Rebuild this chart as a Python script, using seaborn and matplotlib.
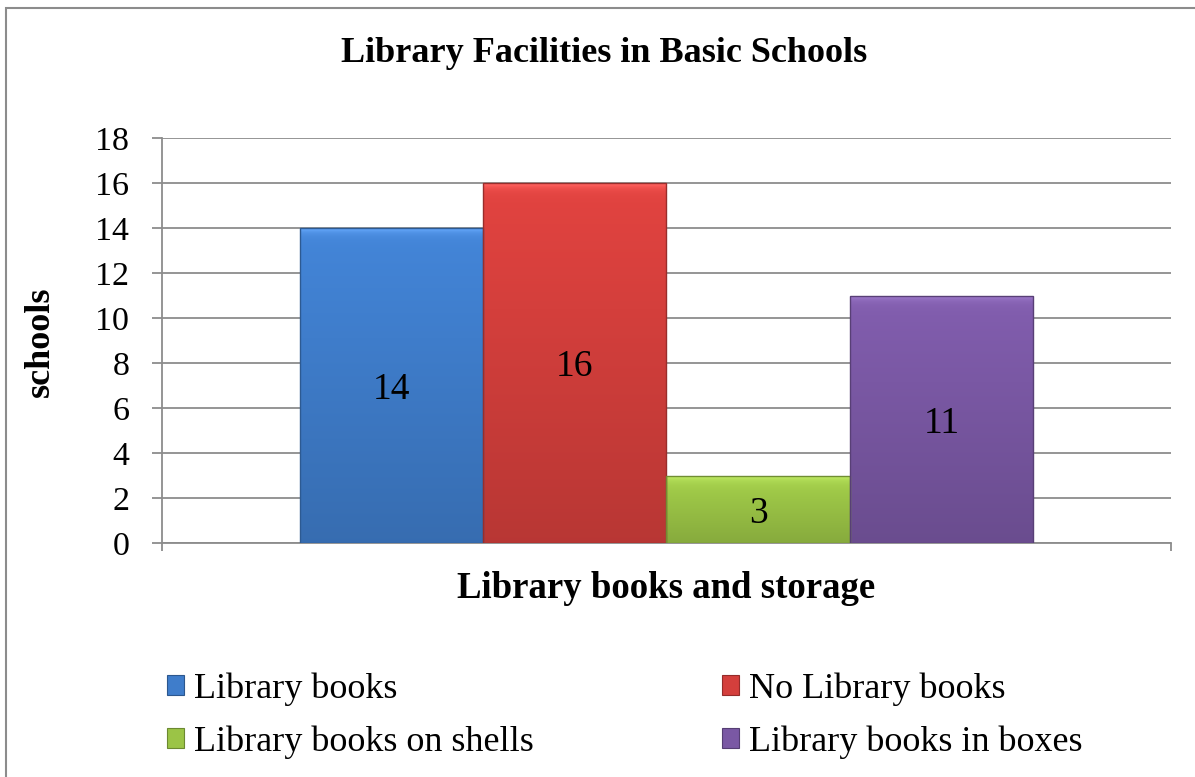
import numpy as np
import pandas as pd
import matplotlib
matplotlib.use("Agg")
import matplotlib.pyplot as plt
import matplotlib.patches as mpatches
from matplotlib.colors import to_rgb
import seaborn as sns

# ---- data ----
group_name = "Library books and storage"
categories = ["Library books", "No Library books", "Library books on shells", "Library books in boxes"]
values = [14, 16, 3, 11]
colors = ["#3F7DCB", "#D43F3C", "#9BC446", "#7A58A4"]
title = "Library Facilities in Basic Schools"
y_label = "schools"
y_ticks = [0, 2, 4, 6, 8, 10, 12, 14, 16, 18]

sns.set_style("white")
plt.rcParams["font.family"] = ["Liberation Serif", "DejaVu Serif"]
plt.rcParams["text.color"] = "black"
plt.rcParams["axes.labelcolor"] = "black"
plt.rcParams["xtick.color"] = "black"
plt.rcParams["ytick.color"] = "black"

W, H = 1195, 777
fig = plt.figure(figsize=(W / 100, H / 100), dpi=100)
ax = fig.add_axes([162 / W, 1 - 543 / H, (1171 - 162) / W, (543 - 138) / H])

df = pd.DataFrame({"group": [group_name] * len(categories), "series": categories, "value": values})
sns.barplot(data=df, x="group", y="value", hue="series", hue_order=categories,
            palette=colors, width=0.727, saturation=1, ax=ax, legend=True,
            edgecolor="none", linewidth=0, zorder=3)

grid_c = "#8C8C8C"
ax.set_ylim(0, 18)
ax.set_xlim(-0.5, 0.5)
ax.set_yticks(y_ticks)
ax.set_yticklabels([str(t) for t in y_ticks], fontsize=24.5, color="black")
ax.set_xticks([-0.5, 0.5])
ax.set_xticklabels(["", ""])
ax.set_xlabel("")
ax.set_ylabel("")
ax.grid(axis="y", color=grid_c, linewidth=1.3, zorder=0)
ax.set_axisbelow(True)
for s in ["top", "right"]:
    ax.spines[s].set_visible(False)
for s in ["left", "bottom"]:
    ax.spines[s].set_color(grid_c)
    ax.spines[s].set_linewidth(1.3)
ax.tick_params(axis="y", direction="out", length=7.5, width=1.3, color=grid_c, pad=16, left=True,
               labelcolor="black")
ax.tick_params(axis="x", direction="out", length=6, width=1.3, color=grid_c, bottom=True)

# bevel-like vertical gradient on bars
bars = [p for c in ax.containers for p in c]
for p, col in zip(bars, colors):
    x0, y0 = p.get_x(), p.get_y()
    w, h = p.get_width(), p.get_height()
    base = np.array(to_rgb(col))
    n = 400
    t = np.linspace(0, 1, n)[:, None]  # 0 top -> 1 bottom
    shade = 1.07 - 0.2 * t
    d = (t * h)
    hl = 0.16 * np.exp(-d / 0.18)
    img = np.clip(base[None, :] * shade + hl, 0, 1)
    img = img[:, None, :].repeat(2, axis=1)
    im = ax.imshow(img, extent=[x0, x0 + w, y0, y0 + h], aspect="auto", zorder=3.5,
                   interpolation="bilinear")
    im.set_clip_path(p)
    p.set_edgecolor(tuple(base * 0.72))
    p.set_linewidth(1.0)
    p.set_zorder(3.6)
    p.set_facecolor("none")
ax.set_xlim(-0.5, 0.5)
ax.set_ylim(0, 18)

for c in ax.containers:
    anns = ax.bar_label(c, labels=[f"{v:.0f}" for v in c.datavalues], label_type="center",
                        fontsize=27, color="black", zorder=5)
    for a in anns:
        a.xyann = (0, -3)

# titles
fig.text(604 / W, 1 - 53 / H, title, ha="center", va="center", fontsize=26, fontweight="bold", color="black")
fig.text(666 / W, 1 - 589 / H, group_name, ha="center", va="center", fontsize=26.5, fontweight="bold", color="black")
fig.text(40 / W, 1 - 342 / H, y_label, ha="center", va="center", fontsize=26, fontweight="bold",
         rotation=90, color="black")

# legend
leg_old = ax.get_legend()
labels = [t.get_text() for t in leg_old.get_texts()]
leg_old.remove()
hs = [mpatches.Rectangle((0, 0), 1, 1, facecolor=col,
                         edgecolor=tuple(np.array(to_rgb(col)) * 0.7), linewidth=0.8)
      for col in colors]
order = [0, 2, 1, 3]
leg = fig.legend([hs[i] for i in order], [labels[i] for i in order], ncol=2,
                 loc="upper left", bbox_to_anchor=(167 / W, 1 - 672 / H),
                 frameon=False, fontsize=26, handlelength=0.47, handleheight=0.47,
                 handletextpad=0.28, columnspacing=5.2, labelspacing=0.55,
                 borderpad=0, borderaxespad=0, labelcolor="black")

# outer frame
frame = mpatches.Rectangle((6 / W, -0.1), 1.2, 1 - 8 / H + 0.1, transform=fig.transFigure,
                           facecolor="none", edgecolor="#8C8C8C", linewidth=1.5, clip_on=False)
fig.patches.append(frame)

fig.savefig("out.png", dpi=100)
